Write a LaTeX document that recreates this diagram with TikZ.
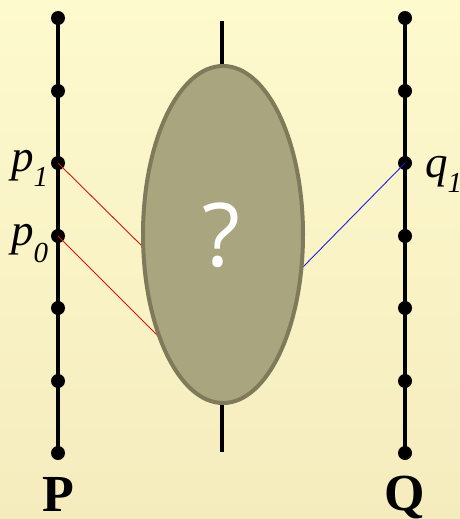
\documentclass[tikz,border=0pt]{standalone}
\usepackage{fontspec}
\usetikzlibrary{shapes.geometric}
\setmainfont{Liberation Serif}
\newfontfamily\qfont{Open Sans}
\begin{document}
\begin{tikzpicture}[x=1pt,y=-1pt,
  rail/.style={line width=4pt,black},
  dot/.style={circle,fill=black,inner sep=0pt,minimum size=14pt},
  redline/.style={draw={rgb,255:red,210;green,20;blue,20},line width=0.9pt},
  blueline/.style={draw={rgb,255:red,30;green,30;blue,230},line width=0.9pt},
  lbl/.style={anchor=base west,inner sep=0pt},
  big/.style={anchor=base,inner sep=0pt,font=\fontsize{52}{52}\selectfont\bfseries}]
\definecolor{bgtop}{RGB}{253,250,206}
\definecolor{bgbot}{RGB}{245,236,190}
\definecolor{blobfill}{RGB}{169,165,127}
\definecolor{blobedge}{RGB}{126,122,90}
\useasboundingbox (0,0) rectangle (460,519);
\shade[top color=bgtop,bottom color=bgbot] (0,0) rectangle (460,519);
% rails
\foreach \n/\y in {1/18,2/91,3/163,4/236,5/308,6/381,7/453}{
  \node[dot] (L\n) at (58,\y) {};
  \node[dot] (R\n) at (405,\y) {};
}
\draw[rail] (L1.center) -- (L7.center);
\draw[rail] (R1.center) -- (R7.center);
% connectors
\coordinate (e1) at (146,250);
\coordinate (e2) at (162,340);
\coordinate (e3) at (302,268);
\draw[redline] (L3.center) -- (e1);
\draw[redline] (L4.center) -- (e2);
\draw[blueline] (R3.center) -- (e3);
% central line and blob
\coordinate (ct) at (222,21);
\coordinate (cb) at (222,452);
\draw[line width=4pt] (ct) -- (cb);
\node[ellipse,draw=blobedge,fill=blobfill,line width=4pt,minimum width=160pt,minimum height=337pt,inner sep=0pt] (blob) at (223,234.5) {};
\node[inner sep=0pt,text=white,font=\qfont\fontsize{88}{88}\selectfont] (qm) at (221,235) {?};
% labels
\node[lbl] (lp1) at (11,171) {\fontsize{45}{45}\selectfont\itshape p\raisebox{-15pt}{\fontsize{29}{29}\selectfont 1}};
\node[lbl] (lp0) at (11,245) {\fontsize{45}{45}\selectfont\itshape p\raisebox{-17pt}{\fontsize{29}{29}\selectfont 0}};
\node[lbl] (lq1) at (425,177) {\fontsize{45}{45}\selectfont\itshape q\raisebox{-15pt}{\fontsize{29}{29}\selectfont 1}};
\node[big] (P) at (58,511) {P};
\node[big] (Q) at (405,510) {Q};
\end{tikzpicture}
\end{document}
